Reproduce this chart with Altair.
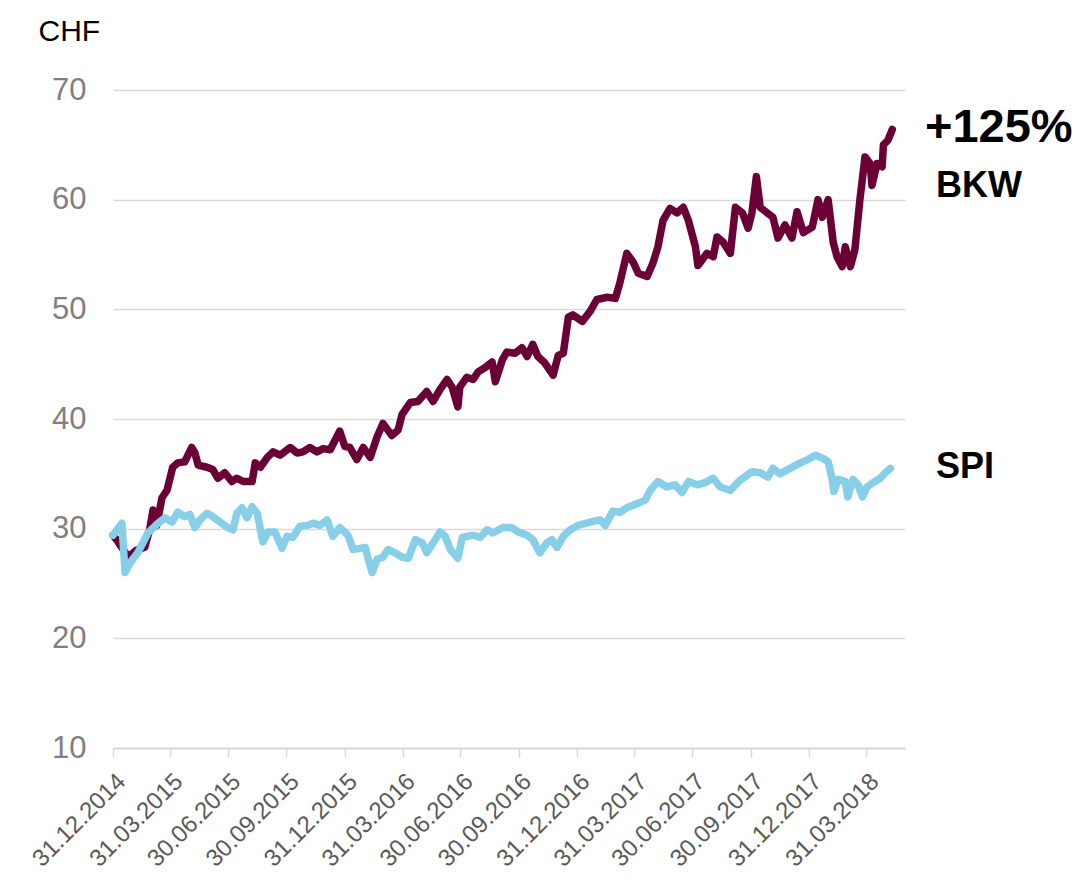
import altair as alt
import pandas as pd

# ---- data ----
base_date = "2014-12-31"

bkw_day = [0, 8, 24, 36, 50, 58, 63, 69, 77, 85, 94, 102, 113, 124, 129, 134, 148, 157, 165, 176,
           187, 195, 205, 219, 224, 232, 243, 252, 263, 279, 290, 299, 310, 321, 331, 342, 357, 365,
           373, 384, 394, 405, 416, 425, 439, 449, 455, 468, 480, 494, 504, 515, 526, 534, 543, 546,
           557, 567, 575, 586, 597, 602, 613, 620, 633, 644, 652, 661, 669, 680, 693, 701, 709, 717,
           724, 739, 751, 762, 778, 791, 798, 809, 819, 827, 841, 850, 858, 866, 877, 888, 898, 906,
           917, 921, 935, 945, 951, 961, 972, 980, 991, 1000, 1006, 1013, 1019, 1030, 1039, 1047,
           1058, 1069, 1077, 1087, 1101, 1110, 1117, 1126, 1134, 1140, 1148, 1153, 1161, 1168, 1176,
           1184, 1192, 1195, 1203, 1211, 1213, 1220, 1227]
bkw_value = [29.4, 28.8, 27.4, 28.0, 28.3, 30.0, 31.7, 30.3, 32.8, 33.5, 35.6, 36.0, 36.1, 37.4, 36.9,
             35.8, 35.6, 35.4, 34.6, 35.1, 34.3, 34.6, 34.3, 34.3, 36.0, 35.6, 36.5, 37.0, 36.7, 37.4,
             36.9, 37.0, 37.4, 37.0, 37.3, 37.2, 38.9, 37.5, 37.4, 36.3, 37.4, 36.5, 38.4, 39.6, 38.5,
             39.0, 40.4, 41.5, 41.6, 42.5, 41.6, 42.7, 43.6, 42.9, 41.1, 42.9, 43.8, 43.6, 44.3, 44.7,
             45.2, 43.4, 45.4, 46.1, 46.0, 46.5, 45.7, 46.8, 45.7, 45.1, 44.0, 45.8, 46.0, 49.3, 49.5,
             48.9, 49.8, 50.9, 51.1, 51.0, 52.4, 55.1, 54.3, 53.3, 53.0, 54.2, 55.7, 58.1, 59.2, 58.8,
             59.3, 58.1, 55.7, 54.0, 55.1, 54.8, 56.6, 56.1, 55.1, 59.3, 58.8, 57.4, 58.8, 62.1, 59.3,
             58.8, 58.4, 56.5, 57.7, 56.5, 58.9, 57.0, 57.5, 60.0, 58.4, 60.0, 56.1, 54.8, 53.9, 55.7,
             53.9, 55.4, 60.0, 63.9, 63.3, 61.3, 63.3, 63.0, 65.0, 65.4, 66.4]

spi_day = [0, 14, 19, 27, 39, 55, 71, 82, 93, 102, 113, 121, 129, 137, 148, 157, 169, 180, 189, 195,
           203, 211, 219, 227, 236, 244, 255, 266, 274, 283, 294, 306, 315, 326, 337, 346, 357, 370,
           378, 389, 397, 402, 408, 416, 425, 433, 444, 455, 465, 476, 487, 494, 504, 515, 523, 531,
           543, 550, 557, 567, 578, 589, 598, 614, 628, 638, 652, 661, 672, 683, 691, 699, 709, 720,
           732, 751, 767, 775, 787, 798, 809, 830, 838, 846, 858, 872, 885, 896, 906, 920, 932, 945,
           956, 972, 987, 1006, 1019, 1031, 1039, 1050, 1066, 1082, 1094, 1106, 1118, 1126, 1132,
           1135, 1142, 1153, 1157, 1165, 1173, 1180, 1187, 1197, 1208, 1216, 1224]
spi_value = [29.4, 30.5, 26.0, 26.9, 27.8, 29.6, 30.5, 31.0, 30.6, 31.5, 31.1, 31.3, 30.1, 30.8, 31.4,
             31.1, 30.6, 30.1, 29.9, 31.4, 31.9, 31.0, 32.0, 31.4, 28.8, 29.7, 29.7, 28.2, 29.3, 29.2,
             30.2, 30.3, 30.5, 30.3, 30.8, 29.3, 30.1, 29.4, 28.1, 28.2, 28.3, 27.2, 26.0, 27.2, 27.4,
             28.1, 27.8, 27.4, 27.3, 29.0, 28.7, 27.8, 28.7, 29.7, 29.3, 28.1, 27.3, 29.2, 29.3, 29.4,
             29.2, 29.9, 29.6, 30.1, 30.1, 29.7, 29.4, 29.0, 27.8, 28.7, 29.0, 28.3, 29.3, 29.9, 30.3,
             30.6, 30.8, 30.3, 31.6, 31.5, 31.9, 32.4, 32.6, 33.5, 34.3, 33.8, 34.0, 33.3, 34.3, 34.0,
             34.2, 34.6, 33.8, 33.5, 34.4, 35.2, 35.1, 34.7, 35.5, 35.0, 35.5, 36.0, 36.3, 36.7, 36.4,
             36.1, 34.6, 33.4, 34.5, 34.3, 32.9, 34.5, 34.0, 32.9, 33.8, 34.2, 34.6, 35.1, 35.5]

tick_dates = ["2014-12-31", "2015-03-31", "2015-06-30", "2015-09-30", "2015-12-31",
              "2016-03-31", "2016-06-30", "2016-09-30", "2016-12-31", "2017-03-31",
              "2017-06-30", "2017-09-30", "2017-12-31", "2018-03-31"]
domain_dates = ["2014-12-31", "2018-05-31"]
y_ticks = [10, 20, 30, 40, 50, 60, 70]

BKW_COLOR = "#6b0036"
SPI_COLOR = "#87cee8"
GRID = "#d9d9d9"
FONT = "Liberation Sans"


def ms(d):
    return int(pd.Timestamp(d, tz="UTC").timestamp() * 1000)


def make_df(days, vals):
    b = pd.Timestamp(base_date)
    return pd.DataFrame({
        "date": [(b + pd.Timedelta(days=d)).strftime("%Y-%m-%d") for d in days],
        "value": vals,
    })


bkw_df = make_df(bkw_day, bkw_value)
spi_df = make_df(spi_day, spi_value)

x_enc = alt.X(
    "date:T",
    scale=alt.Scale(type="utc", domain=[ms(d) for d in domain_dates]),
    axis=alt.Axis(
        values=[ms(d) for d in tick_dates],
        labelExpr="utcFormat(datum.value, '%d.%m.%Y')",
        labelAngle=-45,
        labelAlign="right",
        labelBaseline="top",
        labelPadding=12,
        labelFontSize=24,
        labelColor="#595959",
        labelFont=FONT,
        labelOverlap=False,
        labelBound=False,
        labelFlush=False,
        domainColor=GRID,
        domainWidth=2,
        tickColor=GRID,
        tickWidth=1.5,
        tickSize=9,
        grid=False,
        title=None,
    ),
)

y_enc = alt.Y(
    "value:Q",
    scale=alt.Scale(domain=[10, 70], nice=False, zero=False),
    axis=alt.Axis(
        values=y_ticks,
        title="CHF",
        titleAngle=0,
        titleX=-75,
        titleY=-50,
        titleAlign="left",
        titleBaseline="alphabetic",
        titleFontSize=30,
        titleFontWeight="normal",
        titleColor="#000000",
        titleFont=FONT,
        labelFontSize=31,
        labelColor="#808080",
        labelFont=FONT,
        labelPadding=27,
        domain=False,
        ticks=False,
        tickSize=0,
        gridColor=GRID,
        gridWidth=1.5,
    ),
)

bkw_line = alt.Chart(bkw_df).mark_line(
    color=BKW_COLOR, strokeWidth=7.5, strokeJoin="round", strokeCap="round"
).encode(x=x_enc, y=y_enc)

spi_line = alt.Chart(spi_df).mark_line(
    color=SPI_COLOR, strokeWidth=7.5, strokeJoin="round", strokeCap="round"
).encode(x=x_enc, y=y_enc)

one = pd.DataFrame({"k": [0]})


def label(text, px, py, size):
    return alt.Chart(one).mark_text(
        align="left", baseline="alphabetic", font=FONT, fontSize=size,
        fontWeight="bold", color="#000000",
    ).encode(x=alt.value(px), y=alt.value(py), text=alt.value(text))


chart = alt.layer(
    bkw_line,
    spi_line,
    label("+125%", 812, 52, 47),
    label("BKW", 823, 107, 36),
    label("SPI", 823, 388, 36),
).properties(
    width=792,
    height=658,
    autosize=alt.AutoSizeParams(type="none"),
    padding={"left": 105, "top": 82, "right": 170, "bottom": 122},
).configure(font=FONT).configure_view(strokeWidth=0, stroke=None)

chart.save("out.html", embed_options={"renderer": "svg", "actions": False})
